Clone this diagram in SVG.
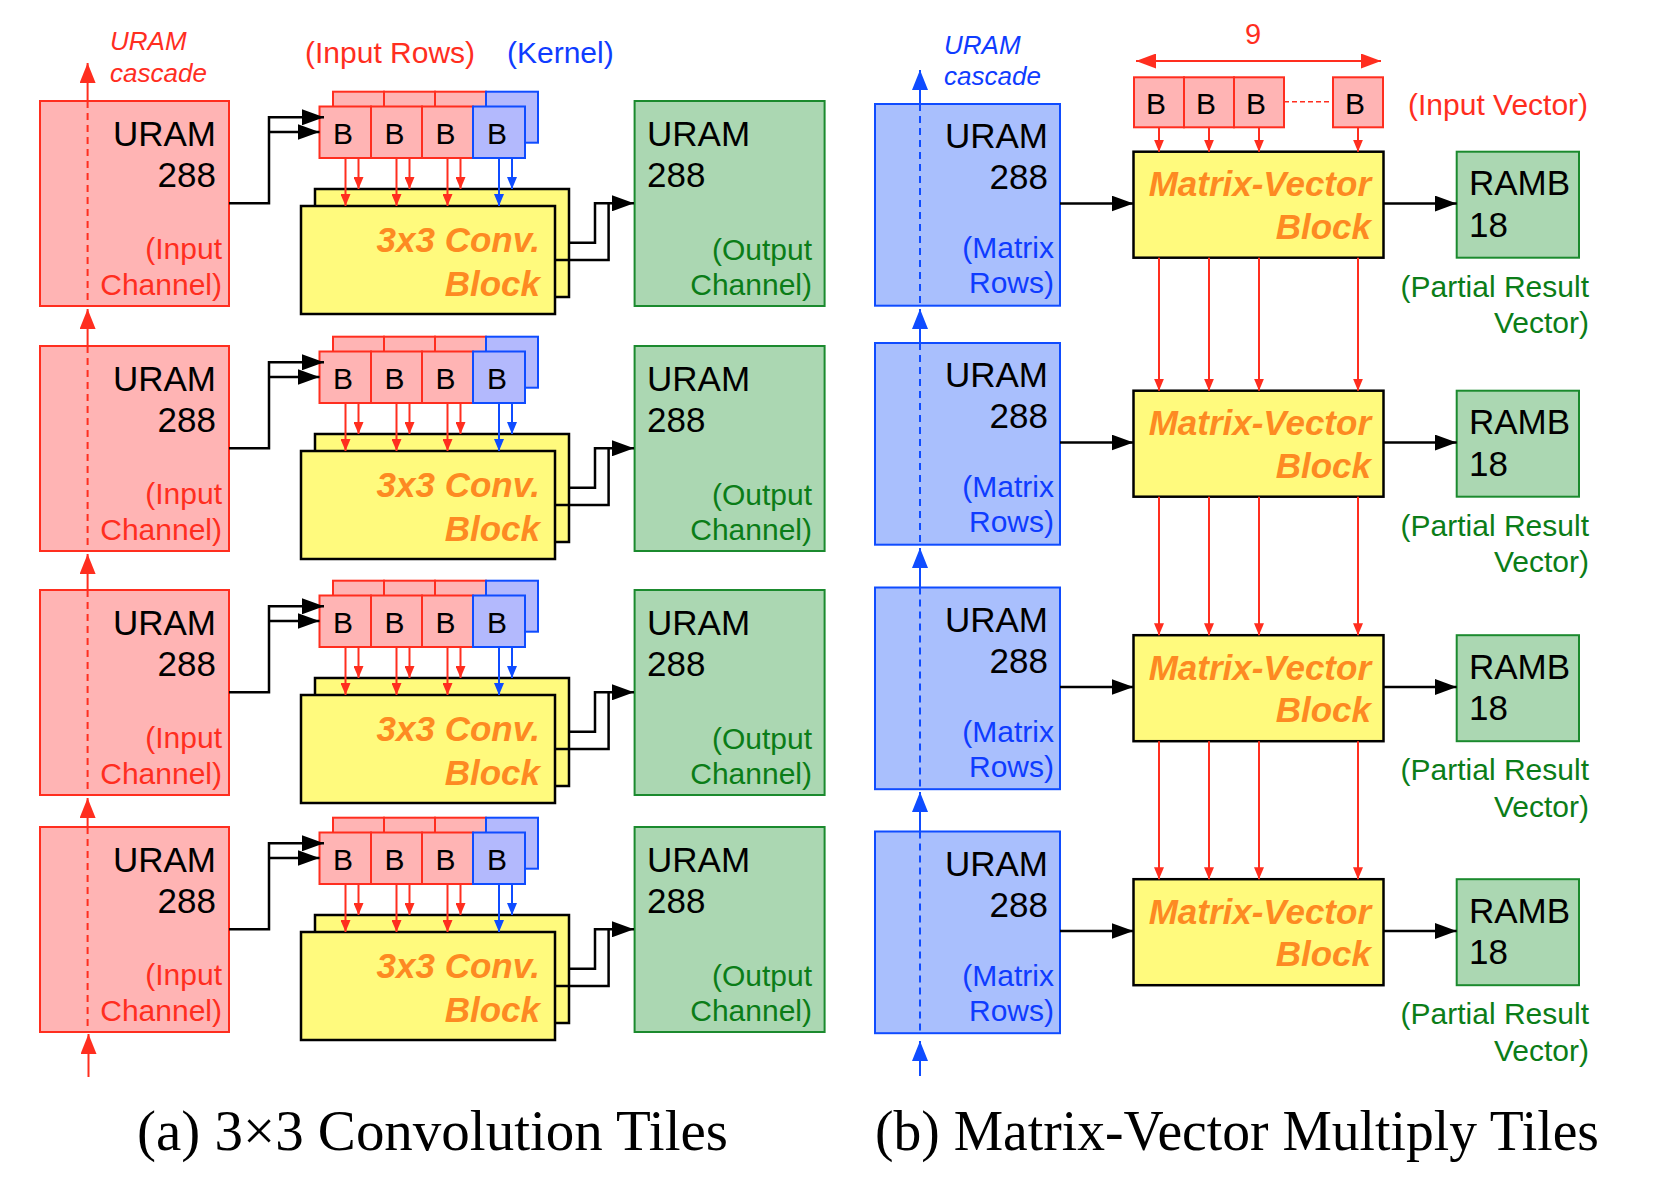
<svg xmlns="http://www.w3.org/2000/svg" width="1655" height="1178" viewBox="0 0 1655 1178">
<style>
.rbox{fill:#ffb4b4;stroke:#ff2e1f;stroke-width:2}
.rB{fill:#ffb4b4;stroke:#ff2e1f;stroke-width:2}
.bbox{fill:#a9bffd;stroke:#0f4cff;stroke-width:2}
.bB{fill:#b3b9fd;stroke:#0f4cff;stroke-width:2}
.gbox{fill:#abd7b2;stroke:#1b8a2e;stroke-width:2}
.ybox{fill:#fffa7d;stroke:#000;stroke-width:2.5}
text{font-family:"Liberation Sans",Arial,sans-serif}
.k35{font-size:35px;fill:#000}
.k28{font-size:30px;fill:#000;text-anchor:middle}
.r30{font-size:30px;fill:#ff2e1f}
.b30{font-size:30px;fill:#0f3cff}
.g30{font-size:30px;fill:#0b7d18}
.ri{font-size:26px;font-style:italic;fill:#ff2e1f}
.bi{font-size:26px;font-style:italic;fill:#0f3cff}
.org{font-size:35px;font-weight:bold;font-style:italic;fill:#fd8a22;text-anchor:end}
.end{text-anchor:end}
.cap{font-family:"Liberation Serif","Times New Roman",serif;font-size:56px;fill:#000}
.ck{fill:none;stroke:#000;stroke-width:2.5}
.cr{fill:none;stroke:#ff2e1f;stroke-width:2}
.cb{fill:none;stroke:#0f4cff;stroke-width:2}
.rdash{stroke:#ff2e1f;stroke-width:2;stroke-dasharray:7,5}
.bdash{stroke:#0f4cff;stroke-width:2;stroke-dasharray:7,5}
.rdash2{stroke:#ff2e1f;stroke-width:1.5;stroke-dasharray:5,3}
</style>
<defs>
<marker id="ah-k" viewBox="0 0 22 16" refX="22" refY="8" markerWidth="22" markerHeight="16" markerUnits="userSpaceOnUse" orient="auto"><path d="M0,0L22,8L0,16z" fill="#000"/></marker>
<marker id="ah-r" viewBox="0 0 20 16" refX="20" refY="8" markerWidth="20" markerHeight="16" markerUnits="userSpaceOnUse" orient="auto"><path d="M0,0L20,8L0,16z" fill="#ff2e1f"/></marker>
<marker id="ah-b" viewBox="0 0 20 16" refX="20" refY="8" markerWidth="20" markerHeight="16" markerUnits="userSpaceOnUse" orient="auto"><path d="M0,0L20,8L0,16z" fill="#0f4cff"/></marker>
<marker id="ahs-r" viewBox="0 0 12 10" refX="12" refY="5" markerWidth="12" markerHeight="10" markerUnits="userSpaceOnUse" orient="auto"><path d="M0,0L12,5L0,10z" fill="#ff2e1f"/></marker>
<marker id="ahs-b" viewBox="0 0 12 10" refX="12" refY="5" markerWidth="12" markerHeight="10" markerUnits="userSpaceOnUse" orient="auto"><path d="M0,0L12,5L0,10z" fill="#0f4cff"/></marker>
<marker id="ah-d" viewBox="0 0 20 15" refX="20" refY="7.5" markerWidth="20" markerHeight="15" markerUnits="userSpaceOnUse" orient="auto-start-reverse"><path d="M0,0L20,7.5L0,15z" fill="#ff2e1f"/></marker>
</defs>
<rect width="1655" height="1178" fill="#fff"/>

<!-- labels panel a -->
<g id="label-cascade-a"><text class="ri" x="110" y="49.5">URAM</text><text class="ri" x="110" y="81.5">cascade</text></g>
<g id="label-input-rows"><text class="r30" x="305" y="63">(Input Rows)</text></g>
<g id="label-kernel"><text class="b30" x="507" y="63">(Kernel)</text></g>

<!-- conv rows -->
<g id="conv-row-1">
 <g id="uram-in-1"><rect class="rbox" x="40" y="101" width="189" height="205"/><line class="rdash" x1="87.6" y1="101" x2="87.6" y2="306"/><text class="k35 end" x="216" y="146">URAM</text><text class="k35 end" x="216" y="187">288</text><text class="r30 end" x="222" y="259">(Input</text><text class="r30 end" x="222" y="295">Channel)</text></g>
 <g id="conv-1"><rect class="ybox" x="315" y="189" width="254" height="108"/><rect class="ybox" x="301" y="206" width="254" height="108"/><text class="org" x="540" y="252">3x3 Conv.</text><text class="org" x="540" y="296">Block</text></g>
 <g id="buf-back-1"><rect class="rB" x="333" y="91.7" width="51" height="51"/><rect class="rB" x="384" y="91.7" width="51" height="51"/><rect class="rB" x="435" y="91.7" width="51" height="51"/><rect class="bB" x="486" y="91.7" width="52" height="51"/></g>
 <g id="buf-front-1"><rect class="rB" x="319.5" y="106.5" width="51.5" height="51.5"/><rect class="rB" x="371" y="106.5" width="51" height="51.5"/><rect class="rB" x="422" y="106.5" width="51" height="51.5"/><rect class="bB" x="473" y="106.5" width="52" height="51.5"/><text class="k28" x="343" y="143.5">B</text><text class="k28" x="394.5" y="143.5">B</text><text class="k28" x="445.5" y="143.5">B</text><text class="k28" x="497" y="143.5">B</text></g>
 <g id="uram-out-1"><rect class="gbox" x="634.6" y="101" width="190" height="205"/><text class="k35" x="647" y="146">URAM</text><text class="k35" x="647" y="187">288</text><text class="g30 end" x="812" y="260">(Output</text><text class="g30 end" x="812" y="295">Channel)</text></g>
</g>
<g id="conv-row-2" transform="translate(0,245)">
 <g id="uram-in-2"><rect class="rbox" x="40" y="101" width="189" height="205"/><line class="rdash" x1="87.6" y1="101" x2="87.6" y2="306"/><text class="k35 end" x="216" y="146">URAM</text><text class="k35 end" x="216" y="187">288</text><text class="r30 end" x="222" y="259">(Input</text><text class="r30 end" x="222" y="295">Channel)</text></g>
 <g id="conv-2"><rect class="ybox" x="315" y="189" width="254" height="108"/><rect class="ybox" x="301" y="206" width="254" height="108"/><text class="org" x="540" y="252">3x3 Conv.</text><text class="org" x="540" y="296">Block</text></g>
 <g id="buf-back-2"><rect class="rB" x="333" y="91.7" width="51" height="51"/><rect class="rB" x="384" y="91.7" width="51" height="51"/><rect class="rB" x="435" y="91.7" width="51" height="51"/><rect class="bB" x="486" y="91.7" width="52" height="51"/></g>
 <g id="buf-front-2"><rect class="rB" x="319.5" y="106.5" width="51.5" height="51.5"/><rect class="rB" x="371" y="106.5" width="51" height="51.5"/><rect class="rB" x="422" y="106.5" width="51" height="51.5"/><rect class="bB" x="473" y="106.5" width="52" height="51.5"/><text class="k28" x="343" y="143.5">B</text><text class="k28" x="394.5" y="143.5">B</text><text class="k28" x="445.5" y="143.5">B</text><text class="k28" x="497" y="143.5">B</text></g>
 <g id="uram-out-2"><rect class="gbox" x="634.6" y="101" width="190" height="205"/><text class="k35" x="647" y="146">URAM</text><text class="k35" x="647" y="187">288</text><text class="g30 end" x="812" y="260">(Output</text><text class="g30 end" x="812" y="295">Channel)</text></g>
</g>
<g id="conv-row-3" transform="translate(0,489)">
 <g id="uram-in-3"><rect class="rbox" x="40" y="101" width="189" height="205"/><line class="rdash" x1="87.6" y1="101" x2="87.6" y2="306"/><text class="k35 end" x="216" y="146">URAM</text><text class="k35 end" x="216" y="187">288</text><text class="r30 end" x="222" y="259">(Input</text><text class="r30 end" x="222" y="295">Channel)</text></g>
 <g id="conv-3"><rect class="ybox" x="315" y="189" width="254" height="108"/><rect class="ybox" x="301" y="206" width="254" height="108"/><text class="org" x="540" y="252">3x3 Conv.</text><text class="org" x="540" y="296">Block</text></g>
 <g id="buf-back-3"><rect class="rB" x="333" y="91.7" width="51" height="51"/><rect class="rB" x="384" y="91.7" width="51" height="51"/><rect class="rB" x="435" y="91.7" width="51" height="51"/><rect class="bB" x="486" y="91.7" width="52" height="51"/></g>
 <g id="buf-front-3"><rect class="rB" x="319.5" y="106.5" width="51.5" height="51.5"/><rect class="rB" x="371" y="106.5" width="51" height="51.5"/><rect class="rB" x="422" y="106.5" width="51" height="51.5"/><rect class="bB" x="473" y="106.5" width="52" height="51.5"/><text class="k28" x="343" y="143.5">B</text><text class="k28" x="394.5" y="143.5">B</text><text class="k28" x="445.5" y="143.5">B</text><text class="k28" x="497" y="143.5">B</text></g>
 <g id="uram-out-3"><rect class="gbox" x="634.6" y="101" width="190" height="205"/><text class="k35" x="647" y="146">URAM</text><text class="k35" x="647" y="187">288</text><text class="g30 end" x="812" y="260">(Output</text><text class="g30 end" x="812" y="295">Channel)</text></g>
</g>
<g id="conv-row-4" transform="translate(0,726)">
 <g id="uram-in-4"><rect class="rbox" x="40" y="101" width="189" height="205"/><line class="rdash" x1="87.6" y1="101" x2="87.6" y2="306"/><text class="k35 end" x="216" y="146">URAM</text><text class="k35 end" x="216" y="187">288</text><text class="r30 end" x="222" y="259">(Input</text><text class="r30 end" x="222" y="295">Channel)</text></g>
 <g id="conv-4"><rect class="ybox" x="315" y="189" width="254" height="108"/><rect class="ybox" x="301" y="206" width="254" height="108"/><text class="org" x="540" y="252">3x3 Conv.</text><text class="org" x="540" y="296">Block</text></g>
 <g id="buf-back-4"><rect class="rB" x="333" y="91.7" width="51" height="51"/><rect class="rB" x="384" y="91.7" width="51" height="51"/><rect class="rB" x="435" y="91.7" width="51" height="51"/><rect class="bB" x="486" y="91.7" width="52" height="51"/></g>
 <g id="buf-front-4"><rect class="rB" x="319.5" y="106.5" width="51.5" height="51.5"/><rect class="rB" x="371" y="106.5" width="51" height="51.5"/><rect class="rB" x="422" y="106.5" width="51" height="51.5"/><rect class="bB" x="473" y="106.5" width="52" height="51.5"/><text class="k28" x="343" y="143.5">B</text><text class="k28" x="394.5" y="143.5">B</text><text class="k28" x="445.5" y="143.5">B</text><text class="k28" x="497" y="143.5">B</text></g>
 <g id="uram-out-4"><rect class="gbox" x="634.6" y="101" width="190" height="205"/><text class="k35" x="647" y="146">URAM</text><text class="k35" x="647" y="187">288</text><text class="g30 end" x="812" y="260">(Output</text><text class="g30 end" x="812" y="295">Channel)</text></g>
</g>

<!-- panel b labels -->
<g id="label-cascade-b"><text class="bi" x="944" y="54.3">URAM</text><text class="bi" x="944" y="85">cascade</text></g>
<g id="label-nine"><text class="r30" x="1253" y="44" text-anchor="middle" style="font-size:29px">9</text></g>
<g id="label-input-vector"><text class="r30" x="1408" y="115">(Input Vector)</text></g>
<g id="input-vector"><rect class="rB" x="1134" y="77.3" width="50" height="50"/><rect class="rB" x="1184" y="77.3" width="50" height="50"/><rect class="rB" x="1234" y="77.3" width="50" height="50"/><rect class="rB" x="1333" y="77.3" width="50" height="50"/><line class="rdash2" x1="1284" y1="101.7" x2="1333" y2="101.7"/><text class="k28" x="1156" y="114">B</text><text class="k28" x="1206" y="114">B</text><text class="k28" x="1256" y="114">B</text><text class="k28" x="1355" y="114">B</text></g>

<g id="mv-row-1">
 <g id="uram-mat-1"><rect class="bbox" x="875" y="104" width="185" height="201.7"/><line class="bdash" x1="920" y1="104" x2="920" y2="305.7"/><text class="k35 end" x="1048" y="148.3">URAM</text><text class="k35 end" x="1048" y="189.3">288</text><text class="b30 end" x="1054" y="258">(Matrix</text><text class="b30 end" x="1054" y="293">Rows)</text></g>
 <g id="mv-1"><rect class="ybox" x="1133.5" y="151.7" width="250" height="106"/><text class="org" x="1371" y="196">Matrix-Vector</text><text class="org" x="1371" y="238.5">Block</text></g>
 <g id="ramb-1"><rect class="gbox" x="1456.7" y="151.7" width="122.3" height="106"/><text class="k35" x="1469" y="195">RAMB</text><text class="k35" x="1469" y="236.7">18</text><text class="g30 end" x="1589" y="296.7">(Partial Result</text><text class="g30 end" x="1589" y="333.3">Vector)</text></g>
</g>
<g id="mv-row-2" transform="translate(0,239)">
 <g id="uram-mat-2"><rect class="bbox" x="875" y="104" width="185" height="201.7"/><line class="bdash" x1="920" y1="104" x2="920" y2="305.7"/><text class="k35 end" x="1048" y="148.3">URAM</text><text class="k35 end" x="1048" y="189.3">288</text><text class="b30 end" x="1054" y="258">(Matrix</text><text class="b30 end" x="1054" y="293">Rows)</text></g>
 <g id="mv-2"><rect class="ybox" x="1133.5" y="151.7" width="250" height="106"/><text class="org" x="1371" y="196">Matrix-Vector</text><text class="org" x="1371" y="238.5">Block</text></g>
 <g id="ramb-2"><rect class="gbox" x="1456.7" y="151.7" width="122.3" height="106"/><text class="k35" x="1469" y="195">RAMB</text><text class="k35" x="1469" y="236.7">18</text><text class="g30 end" x="1589" y="296.7">(Partial Result</text><text class="g30 end" x="1589" y="333.3">Vector)</text></g>
</g>
<g id="mv-row-3" transform="translate(0,483.5)">
 <g id="uram-mat-3"><rect class="bbox" x="875" y="104" width="185" height="201.7"/><line class="bdash" x1="920" y1="104" x2="920" y2="305.7"/><text class="k35 end" x="1048" y="148.3">URAM</text><text class="k35 end" x="1048" y="189.3">288</text><text class="b30 end" x="1054" y="258">(Matrix</text><text class="b30 end" x="1054" y="293">Rows)</text></g>
 <g id="mv-3"><rect class="ybox" x="1133.5" y="151.7" width="250" height="106"/><text class="org" x="1371" y="196">Matrix-Vector</text><text class="org" x="1371" y="238.5">Block</text></g>
 <g id="ramb-3"><rect class="gbox" x="1456.7" y="151.7" width="122.3" height="106"/><text class="k35" x="1469" y="195">RAMB</text><text class="k35" x="1469" y="236.7">18</text><text class="g30 end" x="1589" y="296.7">(Partial Result</text><text class="g30 end" x="1589" y="333.3">Vector)</text></g>
</g>
<g id="mv-row-4" transform="translate(0,727.5)">
 <g id="uram-mat-4"><rect class="bbox" x="875" y="104" width="185" height="201.7"/><line class="bdash" x1="920" y1="104" x2="920" y2="305.7"/><text class="k35 end" x="1048" y="148.3">URAM</text><text class="k35 end" x="1048" y="189.3">288</text><text class="b30 end" x="1054" y="258">(Matrix</text><text class="b30 end" x="1054" y="293">Rows)</text></g>
 <g id="mv-4"><rect class="ybox" x="1133.5" y="151.7" width="250" height="106"/><text class="org" x="1371" y="196">Matrix-Vector</text><text class="org" x="1371" y="238.5">Block</text></g>
 <g id="ramb-4"><rect class="gbox" x="1456.7" y="151.7" width="122.3" height="106"/><text class="k35" x="1469" y="195">RAMB</text><text class="k35" x="1469" y="236.7">18</text><text class="g30 end" x="1589" y="296.7">(Partial Result</text><text class="g30 end" x="1589" y="333.3">Vector)</text></g>
</g>

<g id="connectors">
 <g id="conv-conn-1">
  <polyline class="ck" points="229,203.3 269,203.3 269,117.3 324,117.3" marker-end="url(#ah-k)"/>
  <polyline class="ck" points="269,132 319.5,132" marker-end="url(#ah-k)"/>
  <g class="cr"><line x1="345.5" y1="158" x2="345.5" y2="206" marker-end="url(#ahs-r)"/><line x1="396.5" y1="158" x2="396.5" y2="206" marker-end="url(#ahs-r)"/><line x1="447.5" y1="158" x2="447.5" y2="206" marker-end="url(#ahs-r)"/><line x1="358.5" y1="158" x2="358.5" y2="189" marker-end="url(#ahs-r)"/><line x1="409.5" y1="158" x2="409.5" y2="189" marker-end="url(#ahs-r)"/><line x1="460.5" y1="158" x2="460.5" y2="189" marker-end="url(#ahs-r)"/></g>
  <g class="cb"><line x1="499" y1="158" x2="499" y2="206" marker-end="url(#ahs-b)"/><line x1="512" y1="158" x2="512" y2="189" marker-end="url(#ahs-b)"/></g>
  <polyline class="ck" points="569,242.7 595,242.7 595,203.3 634,203.3" marker-end="url(#ah-k)"/>
  <polyline class="ck" points="555,260 608.6,260 608.6,203.3"/>
 </g>
 <g id="conv-conn-2" transform="translate(0,245)">
  <polyline class="ck" points="229,203.3 269,203.3 269,117.3 324,117.3" marker-end="url(#ah-k)"/>
  <polyline class="ck" points="269,132 319.5,132" marker-end="url(#ah-k)"/>
  <g class="cr"><line x1="345.5" y1="158" x2="345.5" y2="206" marker-end="url(#ahs-r)"/><line x1="396.5" y1="158" x2="396.5" y2="206" marker-end="url(#ahs-r)"/><line x1="447.5" y1="158" x2="447.5" y2="206" marker-end="url(#ahs-r)"/><line x1="358.5" y1="158" x2="358.5" y2="189" marker-end="url(#ahs-r)"/><line x1="409.5" y1="158" x2="409.5" y2="189" marker-end="url(#ahs-r)"/><line x1="460.5" y1="158" x2="460.5" y2="189" marker-end="url(#ahs-r)"/></g>
  <g class="cb"><line x1="499" y1="158" x2="499" y2="206" marker-end="url(#ahs-b)"/><line x1="512" y1="158" x2="512" y2="189" marker-end="url(#ahs-b)"/></g>
  <polyline class="ck" points="569,242.7 595,242.7 595,203.3 634,203.3" marker-end="url(#ah-k)"/>
  <polyline class="ck" points="555,260 608.6,260 608.6,203.3"/>
 </g>
 <g id="conv-conn-3" transform="translate(0,489)">
  <polyline class="ck" points="229,203.3 269,203.3 269,117.3 324,117.3" marker-end="url(#ah-k)"/>
  <polyline class="ck" points="269,132 319.5,132" marker-end="url(#ah-k)"/>
  <g class="cr"><line x1="345.5" y1="158" x2="345.5" y2="206" marker-end="url(#ahs-r)"/><line x1="396.5" y1="158" x2="396.5" y2="206" marker-end="url(#ahs-r)"/><line x1="447.5" y1="158" x2="447.5" y2="206" marker-end="url(#ahs-r)"/><line x1="358.5" y1="158" x2="358.5" y2="189" marker-end="url(#ahs-r)"/><line x1="409.5" y1="158" x2="409.5" y2="189" marker-end="url(#ahs-r)"/><line x1="460.5" y1="158" x2="460.5" y2="189" marker-end="url(#ahs-r)"/></g>
  <g class="cb"><line x1="499" y1="158" x2="499" y2="206" marker-end="url(#ahs-b)"/><line x1="512" y1="158" x2="512" y2="189" marker-end="url(#ahs-b)"/></g>
  <polyline class="ck" points="569,242.7 595,242.7 595,203.3 634,203.3" marker-end="url(#ah-k)"/>
  <polyline class="ck" points="555,260 608.6,260 608.6,203.3"/>
 </g>
 <g id="conv-conn-4" transform="translate(0,726)">
  <polyline class="ck" points="229,203.3 269,203.3 269,117.3 324,117.3" marker-end="url(#ah-k)"/>
  <polyline class="ck" points="269,132 319.5,132" marker-end="url(#ah-k)"/>
  <g class="cr"><line x1="345.5" y1="158" x2="345.5" y2="206" marker-end="url(#ahs-r)"/><line x1="396.5" y1="158" x2="396.5" y2="206" marker-end="url(#ahs-r)"/><line x1="447.5" y1="158" x2="447.5" y2="206" marker-end="url(#ahs-r)"/><line x1="358.5" y1="158" x2="358.5" y2="189" marker-end="url(#ahs-r)"/><line x1="409.5" y1="158" x2="409.5" y2="189" marker-end="url(#ahs-r)"/><line x1="460.5" y1="158" x2="460.5" y2="189" marker-end="url(#ahs-r)"/></g>
  <g class="cb"><line x1="499" y1="158" x2="499" y2="206" marker-end="url(#ahs-b)"/><line x1="512" y1="158" x2="512" y2="189" marker-end="url(#ahs-b)"/></g>
  <polyline class="ck" points="569,242.7 595,242.7 595,203.3 634,203.3" marker-end="url(#ah-k)"/>
  <polyline class="ck" points="555,260 608.6,260 608.6,203.3"/>
 </g>
 <g id="cascade-a" class="cr">
  <line x1="87.6" y1="101" x2="87.6" y2="63" marker-end="url(#ah-r)"/>
  <line x1="87.6" y1="346" x2="87.6" y2="309" marker-end="url(#ah-r)"/>
  <line x1="87.6" y1="590" x2="87.6" y2="554" marker-end="url(#ah-r)"/>
  <line x1="87.6" y1="827" x2="87.6" y2="798" marker-end="url(#ah-r)"/>
  <line x1="88.5" y1="1077" x2="88.5" y2="1034" marker-end="url(#ah-r)"/>
 </g>
 <g id="cascade-b" class="cb">
  <line x1="920" y1="104" x2="920" y2="70" marker-end="url(#ah-b)"/>
  <line x1="920" y1="343" x2="920" y2="309" marker-end="url(#ah-b)"/>
  <line x1="920" y1="587.5" x2="920" y2="548" marker-end="url(#ah-b)"/>
  <line x1="920" y1="831.5" x2="920" y2="792" marker-end="url(#ah-b)"/>
  <line x1="920" y1="1076" x2="920" y2="1041" marker-end="url(#ah-b)"/>
 </g>
 <g id="nine-span"><line class="cr" x1="1136" y1="61" x2="1381" y2="61" marker-start="url(#ah-d)" marker-end="url(#ah-d)"/></g>
 <g id="vec-to-mv" class="cr">
  <line x1="1159" y1="127.3" x2="1159" y2="151.7" marker-end="url(#ahs-r)"/><line x1="1209" y1="127.3" x2="1209" y2="151.7" marker-end="url(#ahs-r)"/><line x1="1259" y1="127.3" x2="1259" y2="151.7" marker-end="url(#ahs-r)"/><line x1="1358" y1="127.3" x2="1358" y2="151.7" marker-end="url(#ahs-r)"/>
 </g>
 <g id="mv-chain" class="cr">
  <line x1="1159" y1="257.7" x2="1159" y2="390.7" marker-end="url(#ahs-r)"/><line x1="1209" y1="257.7" x2="1209" y2="390.7" marker-end="url(#ahs-r)"/><line x1="1259" y1="257.7" x2="1259" y2="390.7" marker-end="url(#ahs-r)"/><line x1="1358" y1="257.7" x2="1358" y2="390.7" marker-end="url(#ahs-r)"/>
  <line x1="1159" y1="496.7" x2="1159" y2="635.2" marker-end="url(#ahs-r)"/><line x1="1209" y1="496.7" x2="1209" y2="635.2" marker-end="url(#ahs-r)"/><line x1="1259" y1="496.7" x2="1259" y2="635.2" marker-end="url(#ahs-r)"/><line x1="1358" y1="496.7" x2="1358" y2="635.2" marker-end="url(#ahs-r)"/>
  <line x1="1159" y1="741.2" x2="1159" y2="879.2" marker-end="url(#ahs-r)"/><line x1="1209" y1="741.2" x2="1209" y2="879.2" marker-end="url(#ahs-r)"/><line x1="1259" y1="741.2" x2="1259" y2="879.2" marker-end="url(#ahs-r)"/><line x1="1358" y1="741.2" x2="1358" y2="879.2" marker-end="url(#ahs-r)"/>
 </g>
 <g id="mv-conn-1"><line class="ck" x1="1060" y1="203.5" x2="1133.5" y2="203.5" marker-end="url(#ah-k)"/><line class="ck" x1="1383.5" y1="203.5" x2="1456.7" y2="203.5" marker-end="url(#ah-k)"/></g>
 <g id="mv-conn-2" transform="translate(0,239)"><line class="ck" x1="1060" y1="203.5" x2="1133.5" y2="203.5" marker-end="url(#ah-k)"/><line class="ck" x1="1383.5" y1="203.5" x2="1456.7" y2="203.5" marker-end="url(#ah-k)"/></g>
 <g id="mv-conn-3" transform="translate(0,483.5)"><line class="ck" x1="1060" y1="203.5" x2="1133.5" y2="203.5" marker-end="url(#ah-k)"/><line class="ck" x1="1383.5" y1="203.5" x2="1456.7" y2="203.5" marker-end="url(#ah-k)"/></g>
 <g id="mv-conn-4" transform="translate(0,727.5)"><line class="ck" x1="1060" y1="203.5" x2="1133.5" y2="203.5" marker-end="url(#ah-k)"/><line class="ck" x1="1383.5" y1="203.5" x2="1456.7" y2="203.5" marker-end="url(#ah-k)"/></g>
</g>

<g id="captions">
 <text class="cap" x="137" y="1150" textLength="591" lengthAdjust="spacingAndGlyphs">(a) 3×3 Convolution Tiles</text>
 <text class="cap" x="875" y="1150" textLength="724" lengthAdjust="spacingAndGlyphs">(b) Matrix-Vector Multiply Tiles</text>
</g>
</svg>
